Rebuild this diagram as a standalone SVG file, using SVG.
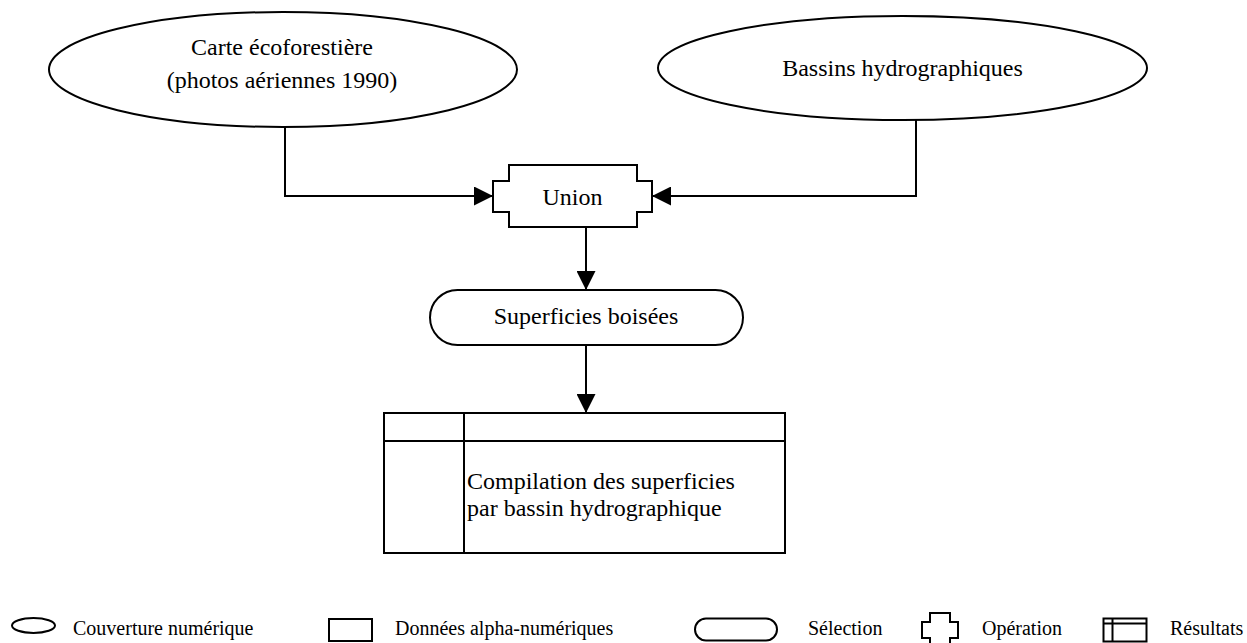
<svg xmlns="http://www.w3.org/2000/svg" width="1247" height="643" viewBox="0 0 1247 643">
  <defs>
    <style>
      .shape { fill: #ffffff; stroke: #000000; stroke-width: 2; }
      .line { fill: none; stroke: #000000; stroke-width: 2; }
      .label { font-family: "Liberation Serif", "Times New Roman", serif; font-size: 24px; fill: #000000; }
      .legend { font-family: "Liberation Serif", "Times New Roman", serif; font-size: 20px; fill: #000000; }
    </style>
    <marker id="arrow" viewBox="0 0 19 19" refX="19" refY="9.5" markerWidth="19" markerHeight="19" markerUnits="userSpaceOnUse" orient="auto">
      <path d="M0,0 L19,9.5 L0,19 Z" fill="#000000"/>
    </marker>
  </defs>

  <rect width="1247" height="643" fill="#ffffff"/>

  <!-- connectors -->
  <g id="connectors">
    <polyline class="line" points="285,127 285,196 493,196" marker-end="url(#arrow)"/>
    <polyline class="line" points="916,120 916,196 652,196" marker-end="url(#arrow)"/>
    <line class="line" x1="586" y1="227" x2="586" y2="290" marker-end="url(#arrow)"/>
    <line class="line" x1="586" y1="345" x2="586" y2="413" marker-end="url(#arrow)"/>
  </g>

  <!-- input coverages -->
  <g id="carte-ecoforestiere">
    <ellipse class="shape" cx="283" cy="69.5" rx="234" ry="57.5"/>
    <text class="label" x="282" y="55" text-anchor="middle">Carte écoforestière</text>
    <text class="label" x="282" y="88" text-anchor="middle">(photos aériennes 1990)</text>
  </g>

  <g id="bassins-hydrographiques">
    <ellipse class="shape" cx="902.5" cy="68" rx="244.5" ry="52"/>
    <text class="label" x="902.5" y="76" text-anchor="middle">Bassins hydrographiques</text>
  </g>

  <!-- operation -->
  <g id="union">
    <path class="shape" d="M509,165 H637 V181 H652 V212 H637 V227 H509 V212 H493 V181 H509 Z"/>
    <text class="label" x="572.5" y="205" text-anchor="middle">Union</text>
  </g>

  <!-- selection -->
  <g id="superficies-boisees">
    <rect class="shape" x="430" y="290" width="313" height="55" rx="27.5" ry="27.5"/>
    <text class="label" x="586" y="324" text-anchor="middle">Superficies boisées</text>
  </g>

  <!-- result -->
  <g id="compilation">
    <rect class="shape" x="384" y="413" width="401" height="140"/>
    <line class="line" x1="384" y1="441" x2="785" y2="441"/>
    <line class="line" x1="464" y1="413" x2="464" y2="553"/>
    <text class="label" x="467" y="489">Compilation des superficies</text>
    <text class="label" x="467" y="516">par bassin hydrographique</text>
  </g>

  <!-- legend -->
  <g id="legend">
    <ellipse class="shape" cx="33.5" cy="625.5" rx="21.5" ry="7.5"/>
    <text class="legend" x="73" y="635">Couverture numérique</text>

    <rect class="shape" x="329" y="619" width="43" height="22"/>
    <text class="legend" x="395" y="635">Données alpha-numériques</text>

    <rect class="shape" x="695" y="618.5" width="82" height="22" rx="11" ry="11"/>
    <text class="legend" x="808" y="635">Sélection</text>

    <path class="shape" d="M930,613 H950 V622 H958 V638 H950 V647 H930 V638 H922 V622 H930 Z"/>
    <text class="legend" x="982" y="635">Opération</text>

    <rect class="shape" x="1103.5" y="618.5" width="43" height="23"/>
    <line class="line" x1="1103.5" y1="623.5" x2="1146.5" y2="623.5"/>
    <line class="line" x1="1112.5" y1="618.5" x2="1112.5" y2="641.5"/>
    <text class="legend" x="1170" y="635">Résultats</text>
  </g>
</svg>
